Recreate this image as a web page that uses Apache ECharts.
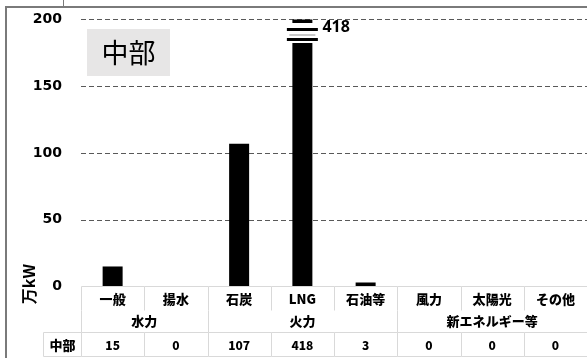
<!DOCTYPE html>
<html>
<head>
<meta charset="utf-8">
<script src="https://cdn.jsdelivr.net/npm/echarts@6/dist/echarts.min.js"></script>
<style>
  html, body { margin: 0; padding: 0; background: #fff; }
  #chart { width: 587px; height: 358px; }
</style>
</head>
<body>
<div id="chart"></div>
<script>
// 発電設備容量（万kW）— 中部
const regionName = '中部';
const categories = ['一般', '揚水', '石炭', 'LNG', '石油等', '風力', '太陽光', 'その他'];
const groupNames = ['水力', '火力', '新エネルギー等'];
const groupSpans = [2, 3, 3];
const values = [15, 0, 107, 418, 3, 0, 0, 0];
const yTicks = [0, 50, 100, 150, 200];

const axisMax = yTicks[yTicks.length - 1];
const CJK = "'Noto Sans CJK JP', 'Noto Sans', sans-serif";
const tableLine = '#d9d9d9';

// first column index of each group
const groupStart = [];
groupSpans.reduce((acc, n) => { groupStart.push(acc); return acc + n; }, 0);

const chart = echarts.init(document.getElementById('chart'), null, { renderer: 'canvas' });

function line(x1, y1, x2, y2, color, width) {
  return { type: 'line', shape: { x1, y1, x2, y2 }, style: { stroke: color, lineWidth: width || 1 } };
}
function txt(x, y, s, size, weight, family) {
  return {
    type: 'text',
    style: { x, y, text: s, fill: '#000', font: (weight || '900') + ' ' + size + 'px ' + (family || CJK), align: 'center', verticalAlign: 'middle' }
  };
}

// data table under the plot: sub-category row, group row, value row
function renderTable(params, api) {
  const i = api.value(0);
  const p = api.coord([i, 0]);
  const w = api.size([1, 0])[0];
  const cx = p[0];
  const y0 = Math.round(p[1]) - 0.5;
  const L = Math.round(cx - w / 2) + 0.5;
  const R = Math.round(cx + w / 2) + 0.5;
  const r1 = y0, r2 = y0 + 24, r3 = y0 + 46, r4 = y0 + 70;
  const els = [];

  // row 1: sub-category
  els.push(line(L, r1, R, r1, tableLine));
  els.push(line(L, r1, L, r2, tableLine));
  els.push(txt(cx, r1 + 13, categories[i], 13));

  // row 2: group label spans several columns
  const g = groupStart.indexOf(i);
  if (g >= 0) {
    const span = groupSpans[g];
    const gx = cx - w / 2 + span * w / 2;
    els.push(line(L, r2, L, r3, tableLine));
    els.push(txt(gx, r2 + 11, groupNames[g], 13));
  }

  // row 3: values
  els.push(line(L, r3, R, r3, tableLine));
  els.push(line(L, r4, R, r4, tableLine));
  els.push(line(L, r3, L, r4, tableLine));
  els.push(txt(cx, r3 + 13, String(api.value(1)), 12));

  if (i === 0) {
    const hL = 43.5;
    els.push(line(hL, r3, L, r3, tableLine));
    els.push(line(hL, r4, L, r4, tableLine));
    els.push(line(hL, r3, hL, r4, tableLine));
    els.push(txt((hL + L) / 2, r3 + 13, regionName, 13));
  }
  return { type: 'group', children: els };
}

// axis break marks on bars that exceed the axis range, with their value label
function renderBreak(params, api) {
  const i = api.value(0);
  const top = api.coord([i, axisMax]);
  const cx = top[0];
  const y = top[1];
  const bw = 20;
  return {
    type: 'group',
    children: [
      { type: 'rect', shape: { x: cx - bw / 2 - 1, y: y + 3.5, width: bw + 2, height: 20 }, style: { fill: '#fff' } },
      { type: 'rect', shape: { x: cx - 15.5, y: y + 8.5, width: 31, height: 3 }, style: { fill: '#000' } },
      { type: 'rect', shape: { x: cx - 13, y: y + 14.5, width: 26, height: 2 }, style: { fill: '#c8c8c8' } },
      { type: 'rect', shape: { x: cx - 15.5, y: y + 18.5, width: 31, height: 3 }, style: { fill: '#000' } },
      {
        type: 'text',
        style: { x: cx + 20, y: y + 8, text: String(api.value(1)), fill: '#000', font: "bold 16px 'Noto Sans', sans-serif", align: 'left', verticalAlign: 'middle' }
      }
    ]
  };
}

const tableData = values.map((v, i) => [i, v]);
const overData = values.map((v, i) => [i, v]).filter(d => d[1] > axisMax);

chart.setOption({
  animation: false,
  grid: { left: 81, right: 0, top: 19.5, bottom: 71.5, containLabel: false },
  xAxis: {
    type: 'category',
    data: categories,
    axisLine: { show: false },
    axisTick: { show: false },
    axisLabel: { show: false }
  },
  yAxis: {
    type: 'value',
    min: yTicks[0],
    max: axisMax,
    interval: 50,
    axisLine: { show: false },
    axisTick: { show: false },
    axisLabel: { margin: 19, color: '#000', fontFamily: 'DejaVu Sans', fontWeight: 'bold', fontSize: 14 },
    splitLine: {
      show: true,
      lineStyle: { color: ['rgba(0,0,0,0)', '#595959', '#595959', '#595959', '#595959'], type: [5, 3], width: 1 }
    }
  },
  series: [
    {
      name: regionName,
      type: 'bar',
      data: values,
      barWidth: 20,
      clip: true,
      itemStyle: { color: '#000' },
      z: 2
    },
    {
      type: 'custom',
      data: overData,
      encode: { x: 0, y: 1 },
      renderItem: renderBreak,
      clip: false,
      z: 5
    },
    {
      type: 'custom',
      data: tableData,
      encode: { x: 0, y: 1 },
      renderItem: renderTable,
      clip: false,
      z: 4
    }
  ],
  graphic: [
    // outer frame
    { type: 'line', shape: { x1: 5, y1: 7, x2: 587, y2: 7 }, style: { stroke: '#7a7a7a', lineWidth: 2 } },
    { type: 'line', shape: { x1: 6, y1: 7, x2: 6, y2: 358 }, style: { stroke: '#7a7a7a', lineWidth: 2 } },
    { type: 'line', shape: { x1: 63.5, y1: 0, x2: 63.5, y2: 6 }, style: { stroke: '#7a7a7a', lineWidth: 1 } },
    // region title
    { type: 'rect', shape: { x: 87, y: 29, width: 83, height: 47 }, style: { fill: '#e7e6e6' } },
    { type: 'text', style: { x: 128.5, y: 53, text: regionName, fill: '#000', font: "normal 27px 'Noto Sans CJK JP', sans-serif", align: 'center', verticalAlign: 'middle' } },
    // unit
    { type: 'text', x: 29, y: 284, rotation: Math.PI / 2, style: { x: 0, y: 0, text: '万kW', fill: '#000', font: "bold 16px 'Noto Sans CJK JP', sans-serif", align: 'center', verticalAlign: 'middle' } }
  ]
});
</script>
</body>
</html>
